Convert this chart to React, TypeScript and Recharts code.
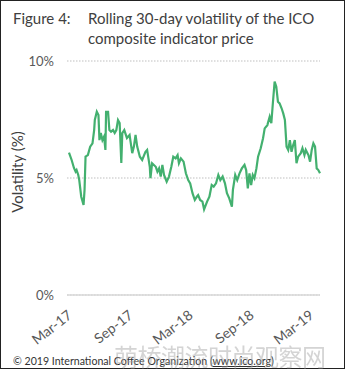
import React from 'react';
import { LineChart, Line, XAxis, YAxis, CartesianGrid } from 'recharts';

const dates = [
  '2017-03-07', '2017-03-15', '2017-03-22', '2017-03-27', '2017-03-30', '2017-04-04', '2017-04-07', '2017-04-13',
  '2017-04-20', '2017-04-23', '2017-04-26', '2017-05-03', '2017-05-10', '2017-05-17', '2017-05-22', '2017-05-24',
  '2017-05-30', '2017-06-04', '2017-06-07', '2017-06-11', '2017-06-16', '2017-06-21', '2017-06-25', '2017-06-27',
  '2017-07-03', '2017-07-07', '2017-07-12', '2017-07-18', '2017-07-23', '2017-07-28', '2017-08-02', '2017-08-07',
  '2017-08-12', '2017-08-15', '2017-08-21', '2017-08-29', '2017-09-06', '2017-09-14', '2017-09-19', '2017-09-24',
  '2017-09-29', '2017-10-07', '2017-10-14', '2017-10-24', '2017-10-29', '2017-11-06', '2017-11-08', '2017-11-13',
  '2017-11-24', '2017-11-29', '2017-12-04', '2017-12-09', '2017-12-14', '2017-12-19', '2017-12-27', '2018-01-03',
  '2018-01-10', '2018-01-16', '2018-01-23', '2018-01-29', '2018-02-02', '2018-02-08', '2018-02-16', '2018-02-23',
  '2018-03-02', '2018-03-08', '2018-03-15', '2018-03-22', '2018-03-28', '2018-04-01', '2018-04-07', '2018-04-14',
  '2018-04-19', '2018-04-28', '2018-05-05', '2018-05-12', '2018-05-18', '2018-05-25', '2018-06-01', '2018-06-07',
  '2018-06-14', '2018-06-21', '2018-06-27', '2018-07-04', '2018-07-12', '2018-07-15', '2018-07-22', '2018-07-28',
  '2018-08-04', '2018-08-11', '2018-08-19', '2018-08-24', '2018-08-29', '2018-09-03', '2018-09-08', '2018-09-13',
  '2018-09-18', '2018-09-24', '2018-09-29', '2018-10-07', '2018-10-14', '2018-10-19', '2018-10-27', '2018-11-03',
  '2018-11-08', '2018-11-13', '2018-11-18', '2018-11-23', '2018-11-28', '2018-12-03', '2018-12-09', '2018-12-14',
  '2018-12-19', '2018-12-24', '2018-12-29', '2019-01-03', '2019-01-08', '2019-01-13', '2019-01-18', '2019-01-23',
  '2019-01-28', '2019-02-05', '2019-02-10', '2019-02-16', '2019-02-20', '2019-02-28', '2019-03-05', '2019-03-10',
  '2019-03-15', '2019-03-20', '2019-03-25', '2019-03-30', '2019-04-04',
];

const volatility = [
  6.08, 5.77, 5.43, 5.27, 5.34, 5.13, 4.91, 4.2,
  3.85, 4.49, 5.91, 5.98, 6.34, 6.48, 7.05, 7.48,
  7.83, 7.69, 6.62, 6.92, 6.62, 6.77, 6.2, 7.83,
  7.83, 7.05, 6.98, 7.05, 6.92, 7.05, 7.48, 7.35,
  5.64, 6.92, 7.05, 6.71, 6.84, 6.06, 6.34, 6.84,
  6.34, 5.91, 5.77, 6.12, 6.2, 5.48, 4.99, 5.63,
  5.48, 5.27, 5.41, 5.06, 5.56, 5.13, 4.84, 5.06,
  5.48, 5.91, 5.84, 5.98, 5.63, 5.84, 5.7, 5.2,
  4.91, 4.77, 4.35, 4.06, 4.2, 4.27, 4.06, 3.99,
  3.66, 3.99, 4.2, 4.7, 4.63, 4.77, 5.13, 4.91,
  5.06, 4.77, 4.35, 4.13, 3.77, 4.49, 5.13, 4.91,
  5.2, 5.41, 5.56, 5.34, 4.56, 5.2, 4.7, 5.13,
  4.99, 5.41, 5.91, 6.27, 6.7, 7.12, 7.26, 7.62,
  7.34, 8.26, 9.12, 8.9, 8.26, 8.19, 7.98, 7.76,
  7.48, 6.34, 6.2, 6.62, 6.12, 6.41, 6.62, 5.63,
  5.91, 6.06, 6.27, 5.98, 6.2, 5.98, 5.7, 6.2,
  6.48, 6.34, 5.41, 5.34, 5.2,
];

const xTickDates = ['2017-03-01', '2017-09-01', '2018-03-01', '2018-09-01', '2019-03-01'];
const xTickLabels = ['Mar-17', 'Sep-17', 'Mar-18', 'Sep-18', 'Mar-19'];
const yTicks = [0, 5, 10];

const data = dates.map((d, i) => ({ t: Date.parse(d), v: volatility[i] }));
const xTicks = xTickDates.map((d) => Date.parse(d));
const labelFor = (t: number) => xTickLabels[xTicks.indexOf(t)] ?? '';

const FONT = 'Lato, "DejaVu Sans", sans-serif';

const RotatedTick = (props: any) => {
  const { x, y, payload } = props;
  return (
    <g transform={`translate(${x + 6},${y + 14})`}>
      <text textAnchor="end" transform="rotate(-38)" fill="#595959" fontSize={14} fontFamily={FONT}>
        {labelFor(payload.value)}
      </text>
    </g>
  );
};

export default function App() {
  return (
    <div
      style={{
        position: 'fixed',
        left: 0,
        top: 0,
        width: 347,
        height: 371,
        background: '#fff',
        fontFamily: FONT,
      }}
    >
      <div
        style={{
          position: 'absolute',
          left: 0,
          top: 0,
          width: 343,
          height: 367,
          border: '1px solid #222',
        }}
      />
      <div style={{ position: 'absolute', left: 13, top: 8, fontSize: 15, color: '#404040', lineHeight: '20px' }}>
        Figure 4:
      </div>
      <div style={{ position: 'absolute', left: 88, top: 8, fontSize: 15, color: '#404040', lineHeight: '20px' }}>
        Rolling 30-day volatility of the ICO
        <br />
        composite indicator price
      </div>
      <div
        style={{
          position: 'absolute',
          left: 17,
          top: 172,
          transform: 'translate(-50%, -50%) rotate(-90deg)',
          fontSize: 15,
          color: '#404040',
          whiteSpace: 'nowrap',
        }}
      >
        Volatility (%)
      </div>
      <div style={{ position: 'absolute', left: 0, top: 0 }}>
        <LineChart width={347} height={371} data={data} margin={{ top: 61, right: 27, bottom: 0, left: 0 }}>
          <CartesianGrid vertical={false} stroke="#bfbfbf" strokeDasharray="1.5 1.5" strokeWidth={1.2} />
          <XAxis
            dataKey="t"
            type="number"
            domain={[Date.parse('2017-03-01'), Date.parse('2019-04-04')]}
            ticks={xTicks}
            tick={<RotatedTick />}
            tickLine={false}
            axisLine={{ stroke: '#d9d9d9', strokeWidth: 1.5 }}
            height={76}
            interval={0}
          />
          <YAxis
            domain={[0, 10]}
            ticks={yTicks}
            tickFormatter={(v: number) => `${v}%`}
            tick={{ fill: '#595959', fontSize: 13, fontFamily: FONT }}
            tickLine={false}
            axisLine={false}
            tickSize={0}
            tickMargin={13}
            width={67}
          />
          <Line
            type="linear"
            dataKey="v"
            stroke="#43b06f"
            strokeWidth={2.2}
            dot={false}
            isAnimationActive={false}
          />
        </LineChart>
      </div>
      <div style={{ position: 'absolute', left: 13, top: 355, fontSize: 10.6, color: '#333', whiteSpace: 'nowrap' }}>
        © 2019 International Coffee Organization (<span style={{ textDecoration: 'underline' }}>www.ico.org</span>)
      </div>
      <div
        style={{
          position: 'absolute',
          left: 114,
          top: 343,
          fontSize: 24,
          color: 'rgba(160,160,160,0.45)',
          fontFamily: '"Noto Sans CJK SC", sans-serif',
          whiteSpace: 'nowrap',
          lineHeight: '26px',
          letterSpacing: -0.5,
        }}
      >
        萌桥潮流时尚观察网
      </div>
    </div>
  );
}
